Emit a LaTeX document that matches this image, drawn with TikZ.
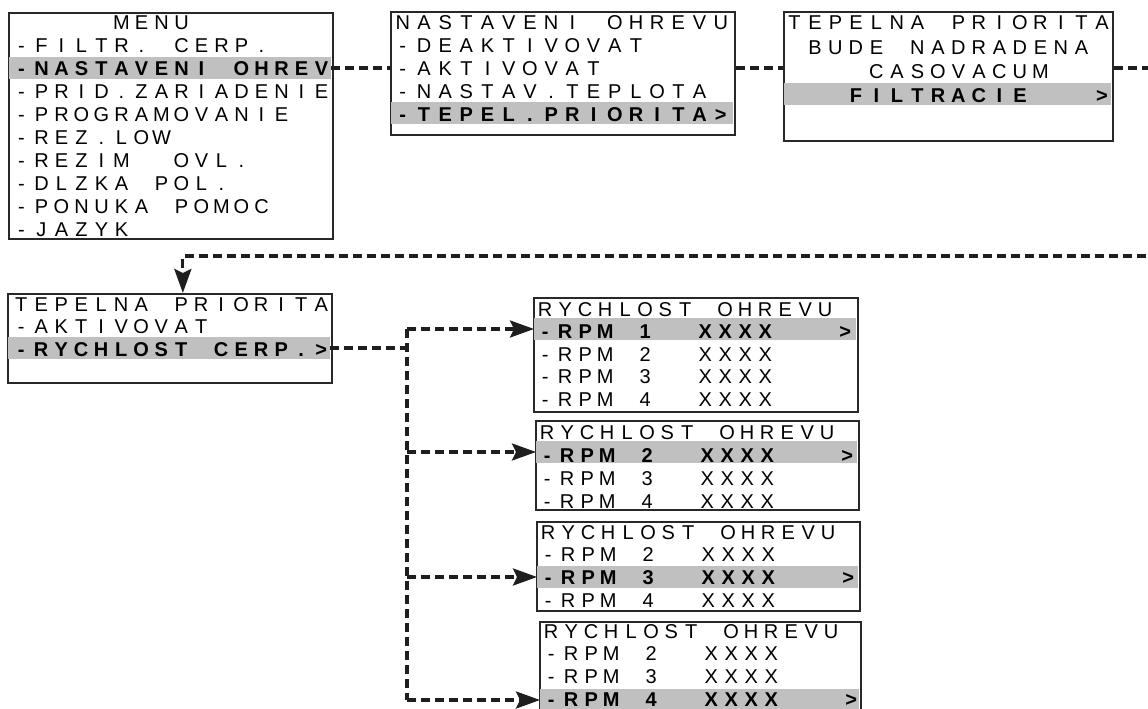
\documentclass[tikz,border=0pt]{standalone}
\usepackage{fontspec}
\setmainfont{Liberation Sans}
\usepackage{tikz}
\usetikzlibrary{arrows.meta,positioning,calc}
\usepackage{xcolor}
\definecolor{selgray}{RGB}{192,192,192}
\definecolor{framegray}{RGB}{40,40,40}
\definecolor{linkgray}{RGB}{30,30,30}

% one character per LCD cell
\newlength\cellw
\newcommand\lcd[1]{\expandafter\lcdnext#1\relax}
\newcommand\lcdnext[1]{\ifx\relax#1\else\makebox[\cellw]{#1}\expandafter\lcdnext\fi}

\begin{document}
\begin{tikzpicture}[
  x=1pt, y=-1pt,
  screen/.style={rectangle,draw=framegray,line width=1.7pt,anchor=north west,inner sep=0pt},
  sel/.style={rectangle,fill=selgray,anchor=west,inner sep=0pt,minimum height=22pt},
  row/.style={anchor=base west,inner sep=0pt,font=\fontsize{20}{23}\selectfont,
              execute at begin node={\setlength{\cellw}{#1}}},
  row/.default=20pt,
  menulink/.style={draw=linkgray,line width=3.2pt,dash pattern=on 9pt off 5pt},
  menuarrow/.style={menulink,-{Stealth[length=24pt,width=17pt,inset=4pt]}},
]
\useasboundingbox (0,0) rectangle (1148,709);

% Screens, top row
\node[screen,minimum width=324pt,minimum height=226pt] (menu) at (8,12) {};
\node[screen,minimum width=344pt,minimum height=123pt] (ohrev) at (390,11) {};
\node[screen,minimum width=329pt,minimum height=129pt] (tepinfo) at (783,11) {};
% Screens, lower part
\node[screen,minimum width=324pt,minimum height=89pt] (tepel) at (7,293) {};
\node[screen,minimum width=324pt,minimum height=114pt] (rpm1) at (533,297) {};
\node[screen,minimum width=323pt,minimum height=89pt] (rpm2) at (535,420) {};
\node[screen,minimum width=323pt,minimum height=89pt] (rpm3) at (536,521) {};
\node[screen,minimum width=321pt,minimum height=100pt] (rpm4) at (539,621) {};

% Selected lines
\node[sel,minimum width=322pt] (menu-h) at (9,68) {};
\node[sel,minimum width=342pt] (ohrev-h) at (391,113) {};
\node[sel,minimum width=327pt] (tepinfo-h) at (784,94) {};
\node[sel,minimum width=322pt] (tepel-h) at (8,348) {};
\node[sel,minimum width=322pt] (rpm1-h) at (534,329) {};
\node[sel,minimum width=321pt] (rpm2-h) at (536,452) {};
\node[sel,minimum width=321pt] (rpm3-h) at (537,577) {};
\node[sel,minimum width=319pt] (rpm4-h) at (540,700) {};

% MENU
\foreach \t [count=\r from 0] in {~~~~~MENU,-FILTR.~CERP.,-NASTAVENI~OHREV,-PRID.ZARIADENIE,
    -PROGRAMOVANIE,-REZ.LOW,-REZIM~~OVL.,-DLZKA~POL.,-PONUKA~POMOC,-JAZYK}
  \node[row] (menu-\r) at (11.3,30+\r*22.9) {\ifnum\r=2 \bfseries\fi\lcd\t};
% NASTAVENI OHREVU
\foreach \t [count=\r from 0] in {NASTAVENI~OHREVU,-DEAKTIVOVAT,-AKTIVOVAT,-NASTAV.TEPLOTA,-TEPEL.PRIORITA>}
  \node[row=21.2pt] (ohrev-\r) at (392,30+\r*22.8) {\ifnum\r=4 \bfseries\fi\lcd\t};
% TEPELNA PRIORITA (info)
\foreach \t [count=\r from 0] in {TEPELNA~PRIORITA,~BUDE~NADRADENA,~~~~CASOVACUM,~~~FILTRACIE~~~>}
  \node[row=20.5pt] (tepinfo-\r) at (784,30+\r*24.2) {\ifnum\r=3 \bfseries\fi\lcd\t};
% TEPELNA PRIORITA
\foreach \t [count=\r from 0] in {TEPELNA~PRIORITA,-AKTIVOVAT,-RYCHLOST~CERP.>}
  \node[row] (tepel-\r) at (11,311+\r*22.5) {\ifnum\r=2 \bfseries\fi\lcd\t};
% RYCHLOST OHREVU, four steps
\foreach \t [count=\r from 0] in {RYCHLOST~OHREVU,-RPM~1~~XXXX~~~>,-RPM~2~~XXXX,-RPM~3~~XXXX,-RPM~4~~XXXX}
  \node[row] (rpm1-\r) at (535,316+\r*22.6) {\ifnum\r=1 \bfseries\fi\lcd\t};
\foreach \t [count=\r from 0] in {RYCHLOST~OHREVU,-RPM~2~~XXXX~~~>,-RPM~3~~XXXX,-RPM~4~~XXXX}
  \node[row] (rpm2-\r) at (537,439+\r*23) {\ifnum\r=1 \bfseries\fi\lcd\t};
\foreach \t [count=\r from 0] in {RYCHLOST~OHREVU,-RPM~2~~XXXX,-RPM~3~~XXXX~~~>,-RPM~4~~XXXX}
  \node[row] (rpm3-\r) at (538,539+\r*22.7) {\ifnum\r=2 \bfseries\fi\lcd\t};
\foreach \t [count=\r from 0] in {RYCHLOST~OHREVU,-RPM~2~~XXXX,-RPM~3~~XXXX,-RPM~4~~XXXX~~~>}
  \node[row] (rpm4-\r) at (541,638+\r*22.7) {\ifnum\r=3 \bfseries\fi\lcd\t};

% Links between screens
\coordinate (out1) at (1160,66);
\coordinate (in1) at (1160,256);
\coordinate (bus) at (407,329);
\draw[menulink] (menu-h.east) -- (menu-h.east -| ohrev.west);
\draw[menulink] (menu-h.east -| ohrev.east) -- (menu-h.east -| tepinfo.west);
\draw[menulink] (menu-h.east -| tepinfo.east) -- (menu-h.east -| out1);
\draw[menuarrow] (in1) -| ([xshift=13pt]tepel.north);
% RYCHLOST CERP. fans out to the speed screens
\draw[menulink] (tepel-h.east) -- (tepel-h.east -| bus);
\draw[menulink] (bus |- rpm1-h.west) -- (bus |- rpm4-h.west);
\foreach \s in {rpm1,rpm2,rpm3,rpm4}
  \draw[menuarrow] (bus |- \s-h.west) -- (\s-h.west);
\end{tikzpicture}
\end{document}
